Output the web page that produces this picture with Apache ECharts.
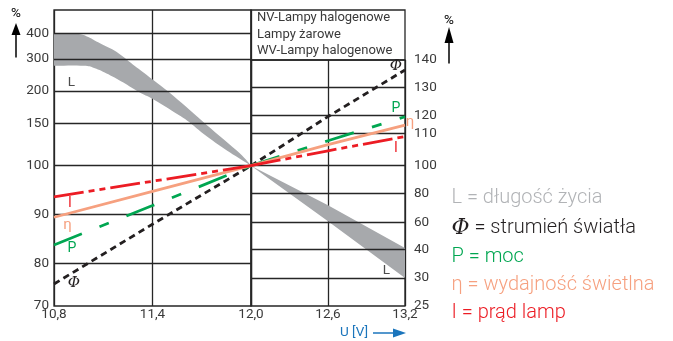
<!DOCTYPE html>
<html>
<head>
<meta charset="utf-8">
<script src="https://cdn.jsdelivr.net/npm/echarts@6/dist/echarts.min.js"></script>
<style>
html,body{margin:0;padding:0;background:#fff;}
#chart{width:673px;height:341px;}
</style>
</head>
<body>
<div id="chart"></div>
<script>
// ---------- data ----------
const uLeft = [10.8, 11.4, 12.0];
const uRight = [12.0, 12.6, 13.2];
const phiLeft = [75.2, 88.0, 100];
const phiRight = [100, 119.5, 136.4];
const pLeft = [83.8, 91.8, 100];
const pRight = [100, 107.7, 119.4];
const etaLeft = [89.4, 94.7, 100];
const etaRight = [100, 106.5, 114.7];
const iLeft = [93.6, 96.8, 100];
const iRight = [100, 104.6, 109];

const lUpperLeftU = [10.80, 10.94, 11.00, 11.08, 11.18, 11.28, 11.38, 11.53, 11.73, 11.93, 12.0];
const lUpperLeft  = [398, 398, 388, 361, 328, 283, 244, 192, 148.5, 115, 100];
const lLowerLeftU = [10.80, 10.98, 11.04, 11.12, 11.22, 11.32, 11.40, 11.53, 11.61, 11.73, 11.87, 12.0];
const lLowerLeft  = [279, 279, 273, 255, 227, 198, 188, 168, 155, 135, 116, 100];
const lUpperRight = [100, 72, 41];
const lLowerRight = [100, 61, 30];

const leftTicks = [70, 80, 90, 100, 150, 200, 300, 400];
const rightTicks = [25, 30, 40, 60, 80, 100, 110, 120, 130, 140];

// ---------- axis scale definition (hand-drawn, non-uniform scales) ----------
const leftScalePos = [0, 42.3, 91.7, 140.3, 182.3, 215, 247, 272.7];
const leftScaleTop = 296;
const rightScalePos = [0, 28, 56.7, 83.3, 112.3, 140.3, 172.7, 190.3, 218.3, 246];
const rightScaleTop = 246;

function toPos(v, ticks, pos) {
  const n = ticks.length;
  let i = 0;
  if (v <= ticks[0]) i = 0;
  else if (v >= ticks[n - 1]) i = n - 2;
  else { while (v > ticks[i + 1]) i++; }
  const t = (v - ticks[i]) / (ticks[i + 1] - ticks[i]);
  return pos[i] + t * (pos[i + 1] - pos[i]);
}
const L = v => toPos(v, leftTicks, leftScalePos);
const R = v => toPos(v, rightTicks, rightScalePos);
function labelFor(v, ticks, pos) {
  let best = 0, d = Infinity;
  pos.forEach((p, k) => { if (Math.abs(p - v) < d) { d = Math.abs(p - v); best = k; } });
  return String(ticks[best]);
}

const INK = '#262626';
const TXT = '#3a3a3a';
const FONT = 'Roboto, "Liberation Sans", Arial, sans-serif';
const COL = { L: '#a7a9ac', phi: '#231f20', P: '#00a651', eta: '#f6a07f', I: '#ec1c24', blue: '#1b75bc' };

const chart = echarts.init(document.getElementById('chart'), null, { renderer: 'canvas' });

function lineSeries(name, xs, ys, conv, gi, color, type, z) {
  return {
    name, type: 'line', xAxisIndex: gi, yAxisIndex: gi, z: z || 5,
    data: xs.map((x, k) => [x, conv(ys[k])]),
    symbol: 'none', silent: true, animation: false,
    lineStyle: { color, width: 2.8, type, cap: 'butt' }
  };
}
// smooth drawing of an edge (Catmull-Rom through the read points, in screen space)
function smoothEdge(pts, steps) {
  if (pts.length < 3) return pts.slice();
  const out = [];
  for (let i = 0; i < pts.length - 1; i++) {
    const p0 = pts[Math.max(0, i - 1)], p1 = pts[i], p2 = pts[i + 1], p3 = pts[Math.min(pts.length - 1, i + 2)];
    for (let s = 0; s < steps; s++) {
      const t = s / steps, t2 = t * t, t3 = t2 * t;
      const f = (a, b, c, d) => 0.5 * ((2 * b) + (-a + c) * t + (2 * a - 5 * b + 4 * c - d) * t2 + (-a + 3 * b - 3 * c + d) * t3);
      out.push([f(p0[0], p1[0], p2[0], p3[0]), f(p0[1], p1[1], p2[1], p3[1])]);
    }
  }
  out.push(pts[pts.length - 1]);
  return out;
}
function bandSeries(upU, up, loU, lo, conv, gi, smooth) {
  return {
    type: 'custom', xAxisIndex: gi, yAxisIndex: gi, z: 3, silent: true, animation: false,
    data: [0],
    renderItem: function (params, api) {
      let top = upU.map((u, k) => api.coord([u, conv(up[k])]));
      let bot = loU.map((u, k) => api.coord([u, conv(lo[k])]));
      if (smooth) { top = smoothEdge(top, 8); bot = smoothEdge(bot, 8); }
      const pts = top.concat(bot.slice().reverse());
      return { type: 'polygon', shape: { points: pts }, style: { fill: COL.L, stroke: null } };
    }
  };
}
function gridLines(ticks, conv, gi) {
  return {
    type: 'line', xAxisIndex: gi, yAxisIndex: gi, z: 1, data: [], silent: true, animation: false,
    markLine: {
      silent: true, symbol: 'none', animation: false,
      label: { show: false },
      lineStyle: { color: INK, width: 1.3, type: 'solid' },
      emphasis: { disabled: true },
      data: ticks.map(t => ({ yAxis: conv(t) }))
    }
  };
}

const fmtX = v => v.toFixed(1).replace('.', ',');

const option = {
  animation: false,
  grid: [
    { left: 54, top: 10, width: 197, height: 296, show: true, borderColor: INK, borderWidth: 1.3, backgroundColor: 'transparent' },
    { left: 251, top: 60, width: 154, height: 246, show: true, borderColor: INK, borderWidth: 1.3, backgroundColor: 'transparent' }
  ],
  xAxis: [
    { type: 'value', gridIndex: 0, min: 10.8, max: 12.0, interval: 0.6,
      axisLine: { show: false }, axisTick: { show: false },
      splitLine: { show: true, lineStyle: { color: INK, width: 1.3 } },
      axisLabel: { margin: 2, fontSize: 13.5, color: TXT, fontFamily: FONT, formatter: fmtX } },
    { type: 'value', gridIndex: 1, min: 12.0, max: 13.2, interval: 0.6,
      axisLine: { show: false }, axisTick: { show: false },
      splitLine: { show: true, lineStyle: { color: INK, width: 1.3 } },
      axisLabel: { margin: 2, fontSize: 13.5, color: TXT, fontFamily: FONT, formatter: v => (Math.abs(v - 12) < 1e-6 ? '' : fmtX(v)) } }
  ],
  yAxis: [
    { type: 'value', gridIndex: 0, min: 0, max: leftScaleTop, position: 'left',
      axisLine: { show: false }, axisTick: { show: false }, splitLine: { show: false },
      axisLabel: { customValues: leftTicks.map(L), margin: 5, fontSize: 13.5, color: TXT, fontFamily: FONT,
        padding: [0, 0, 7, 0],
        formatter: v => labelFor(v, leftTicks, leftScalePos) } },
    { type: 'value', gridIndex: 1, min: 0, max: rightScaleTop, position: 'right',
      axisLine: { show: false }, axisTick: { show: false }, splitLine: { show: false },
      axisLabel: { customValues: rightTicks.map(R), margin: 9, fontSize: 13.5, color: TXT, fontFamily: FONT,
        padding: [0, 0, 3, 0],
        formatter: v => labelFor(v, rightTicks, rightScalePos) } }
  ],
  series: [
    gridLines(leftTicks.slice(1), L, 0),
    gridLines(rightTicks.slice(1, -1), R, 1),
    bandSeries(lUpperLeftU, lUpperLeft, lLowerLeftU, lLowerLeft, L, 0, true),
    bandSeries(uRight, lUpperRight, uRight, lLowerRight, R, 1, false),
    lineSeries('phiL', uLeft, phiLeft, L, 0, COL.phi, [6.5, 4.5], 6),
    lineSeries('phiR', uRight, phiRight, R, 1, COL.phi, [6.5, 4.5], 6),
    lineSeries('pL', uLeft, pLeft, L, 0, COL.P, [30, 19, 10, 19], 7),
    lineSeries('pR', uRight, pRight, R, 1, COL.P, [30, 19, 10, 19], 7),
    lineSeries('etaL', uLeft, etaLeft, L, 0, COL.eta, 'solid', 8),
    lineSeries('etaR', uRight, etaRight, R, 1, COL.eta, 'solid', 8),
    lineSeries('iL', uLeft, iLeft, L, 0, COL.I, [30, 5, 6, 5, 6, 5], 9),
    lineSeries('iR', uRight, iRight, R, 1, COL.I, [30, 5, 6, 5, 6, 5], 9)
  ],
  graphic: [
    // table box
    { type: 'rect', shape: { x: 251, y: 10, width: 154, height: 50 }, style: { fill: 'none', stroke: INK, lineWidth: 1.3 }, z: 10 },
    { type: 'text', x: 257, y: 18, style: { text: 'NV-Lampy halogenowe', fontSize: 13, fontFamily: FONT, fill: TXT, verticalAlign: 'middle' }, z: 10 },
    { type: 'text', x: 257, y: 34.5, style: { text: 'Lampy żarowe', fontSize: 13, fontFamily: FONT, fill: TXT, verticalAlign: 'middle' }, z: 10 },
    { type: 'text', x: 257, y: 51, style: { text: 'WV-Lampy halogenowe', fontSize: 13, fontFamily: FONT, fill: TXT, verticalAlign: 'middle' }, z: 10 },
    // % arrows
    { type: 'text', x: 16, y: 13.5, style: { text: '%', fontSize: 13.5, fontFamily: FONT, fill: '#000', align: 'center', verticalAlign: 'middle' } },
    { type: 'line', shape: { x1: 16, y1: 57.5, x2: 16, y2: 33 }, style: { stroke: '#000', lineWidth: 1.5 } },
    { type: 'polygon', shape: { points: [[16, 23], [11.5, 35], [20.5, 35]] }, style: { fill: '#000' } },
    { type: 'text', x: 449, y: 21, style: { text: '%', fontSize: 13.5, fontFamily: FONT, fill: '#000', align: 'center', verticalAlign: 'middle' } },
    { type: 'line', shape: { x1: 449, y1: 63.5, x2: 449, y2: 41 }, style: { stroke: '#000', lineWidth: 1.5 } },
    { type: 'polygon', shape: { points: [[449, 27], [444.5, 43], [453.5, 43]] }, style: { fill: '#000' } },
    // U [V] arrow
    { type: 'text', x: 340, y: 333, style: { text: 'U [V]', fontSize: 13.5, fontFamily: FONT, fill: COL.blue, verticalAlign: 'middle' } },
    { type: 'line', shape: { x1: 373, y1: 333, x2: 396, y2: 333 }, style: { stroke: COL.blue, lineWidth: 1.5 } },
    { type: 'polygon', shape: { points: [[406, 333], [393, 328.5], [393, 337.5]] }, style: { fill: COL.blue } },
    // curve labels
    { type: 'text', x: 71.5, y: 83, style: { text: 'L', fontSize: 13.5, fontFamily: FONT, fill: '#4d4d4d', align: 'center', verticalAlign: 'middle' }, z: 20 },
    { type: 'text', x: 386.5, y: 270.5, style: { text: 'L', fontSize: 13.5, fontFamily: FONT, fill: '#4d4d4d', align: 'center', verticalAlign: 'middle' }, z: 20 },
    { type: 'text', x: 70, y: 203, style: { text: 'I', fontSize: 14, fontFamily: FONT, fill: COL.I, align: 'center', verticalAlign: 'middle' }, z: 20 },
    { type: 'text', x: 67.5, y: 225, style: { text: 'η', fontSize: 15, fontFamily: FONT, fill: COL.eta, align: 'center', verticalAlign: 'middle' }, z: 20 },
    { type: 'text', x: 72, y: 248, style: { text: 'P', fontSize: 14, fontFamily: FONT, fill: COL.P, align: 'center', verticalAlign: 'middle' }, z: 20 },
    { type: 'text', x: 74, y: 283, style: { text: 'Φ', fontSize: 15, fontFamily: '"DejaVu Serif", serif', fontStyle: 'italic', fill: COL.phi, align: 'center', verticalAlign: 'middle' }, z: 20 },
    { type: 'text', x: 396, y: 66, style: { text: 'Φ', fontSize: 15, fontFamily: '"DejaVu Serif", serif', fontStyle: 'italic', fill: COL.phi, align: 'center', verticalAlign: 'middle' }, z: 20 },
    { type: 'text', x: 396, y: 108.5, style: { text: 'P', fontSize: 14, fontFamily: FONT, fill: COL.P, align: 'center', verticalAlign: 'middle' }, z: 20 },
    { type: 'text', x: 410, y: 122.5, style: { text: 'η', fontSize: 15, fontFamily: FONT, fill: COL.eta, align: 'center', verticalAlign: 'middle' }, z: 20 },
    { type: 'text', x: 396, y: 148, style: { text: 'I', fontSize: 14, fontFamily: FONT, fill: COL.I, align: 'center', verticalAlign: 'middle' }, z: 20 },
    // legend
    { type: 'text', x: 451.5, y: 198, style: { text: 'L = długość życia', fontSize: 20, fontFamily: FONT, fontWeight: 300, fill: '#b1b3b6', verticalAlign: 'middle' } },
    { type: 'text', x: 451.5, y: 228, style: { text: '{p|Φ} = strumień światła', fontSize: 20, fontFamily: FONT, fontWeight: 300, fill: '#231f20', verticalAlign: 'middle',
        rich: { p: { fontSize: 22, fontFamily: '"DejaVu Serif", serif', fontStyle: 'italic', fill: '#231f20' } } } },
    { type: 'text', x: 451.5, y: 257, style: { text: 'P = moc', fontSize: 20, fontFamily: FONT, fontWeight: 300, fill: COL.P, verticalAlign: 'middle' } },
    { type: 'text', x: 451.5, y: 285, style: { text: 'η = wydajność świetlna', fontSize: 20, fontFamily: FONT, fontWeight: 300, fill: COL.eta, verticalAlign: 'middle' } },
    { type: 'text', x: 451.5, y: 313, style: { text: 'I = prąd lamp', fontSize: 20, fontFamily: FONT, fontWeight: 300, fill: COL.I, verticalAlign: 'middle' } }
  ]
};
chart.setOption(option);
</script>
</body>
</html>
